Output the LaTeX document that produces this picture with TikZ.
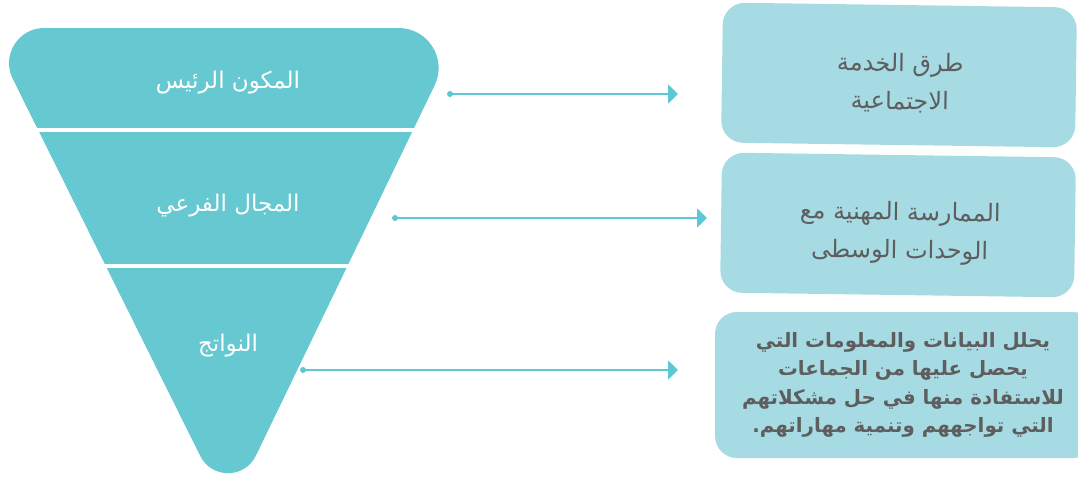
\documentclass[tikz,border=0pt]{standalone}
\usepackage{fontspec}
\usetikzlibrary{arrows.meta}
\TeXXeTstate=1
\newfontfamily\arabicfont[Script=Arabic]{DejaVu Sans}
\definecolor{funnelcolor}{HTML}{66C8D0}
\definecolor{boxcolor}{HTML}{A6DBE4}
\definecolor{arrowcolor}{HTML}{5CC8D3}
\definecolor{textgrey}{HTML}{5E5E5E}

\begin{document}
\begin{tikzpicture}[x=1pt,y=-1pt,line join=round,
  level/.style={font=\arabicfont\fontsize{23}{26}\selectfont,text=white},
  infobox/.style={fill=boxcolor,rounded corners=22pt,minimum width=354pt,minimum height=140pt},
  boxtext/.style={align=center,text=textgrey,font=\arabicfont\fontsize{24}{38}\selectfont},
  link/.style={arrowcolor,line width=1.8pt,-{Triangle[length=10pt,width=19pt]}}]
  \useasboundingbox (0,0) rectangle (1078,477);
  % funnel
  \fill[funnelcolor] (220,28) -- (398.6,28) .. controls (428.1,28) and (447.5,58.9) .. (434.6,85.4)
    -- (255.9,455.7) .. controls (244.6,479) and (211.4,479) .. (200.1,455.7)
    -- (12.7,78.8) .. controls (1.1,55.4) and (18.1,28) .. (44.2,28) -- cycle;
  \draw[white,line width=4pt] (30,130) -- (420,130);
  \draw[white,line width=4pt] (100,266) -- (352,266);
  \node[level] (main) at (228,83) {\beginR المكون الرئيس\endR};
  \node[level] (sub) at (228,206) {\beginR المجال الفرعي\endR};
  \node[level] (outcome) at (228,346) {\beginR النواتج\endR};
  % boxes
  \node[infobox,rotate=-0.8] (methods) at (899,75) {};
  \node[boxtext,rotate=-0.8] (methodsText) at (900,83) {\beginR طرق الخدمة\endR\\\beginR الاجتماعية\endR};
  \node[infobox,rotate=-0.8] (practice) at (898,225) {};
  \node[boxtext,rotate=-0.8] (practiceText) at (900,233) {\beginR الممارسة المهنية مع\endR\\\beginR الوحدات الوسطى\endR};
  \node[infobox,minimum width=380pt,minimum height=146pt] (analysis) at (905,385) {};
  \node[boxtext,font=\arabicfont\bfseries\fontsize{19.8}{28.5}\selectfont] (analysisText) at (903,385)
    {\beginR يحلل البيانات والمعلومات التي\endR\\\beginR يحصل عليها من الجماعات\endR\\
     \beginR للاستفادة منها في حل مشكلاتهم\endR\\\beginR التي تواجههم وتنمية مهاراتهم.\endR};
  % connectors
  \coordinate (p1) at (450,94);  \coordinate (q1) at (678,94);
  \coordinate (p2) at (395,218); \coordinate (q2) at (707,218);
  \coordinate (p3) at (303,370); \coordinate (q3) at (678,370);
  \foreach \s/\e in {p1/q1,p2/q2,p3/q3}{\fill[arrowcolor] (\s) circle[radius=3]; \draw[link] (\s) -- (\e);}
\end{tikzpicture}
\end{document}
